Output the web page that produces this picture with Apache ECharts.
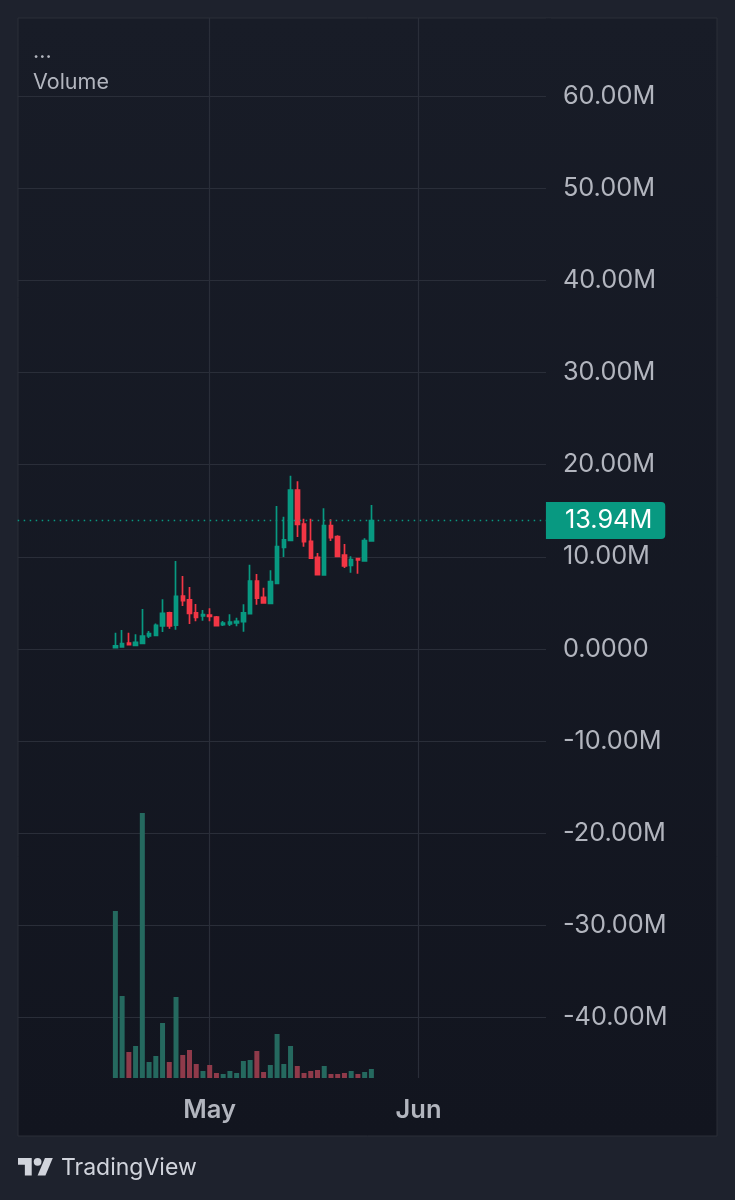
<!DOCTYPE html>
<html>
<head>
<meta charset="utf-8">
<style>html,body{margin:0;padding:0;background:#1e222d;}#c{width:735px;height:1200px;}</style>
<script src="https://cdn.jsdelivr.net/npm/echarts@6/dist/echarts.min.js"></script>
</head>
<body>
<div id="c"></div>
<script>
var dates = [];
var paddingBefore = 14, paddingAfter = 26;
var priceTicks = [60, 50, 40, 30, 20, 10, 0, -10, -20, -30, -40];
var monthLabels = {'May': 14 + 14, 'Jun': 14 + 45};
var lastPrice = 13.94;
// [open, close, low, high] in millions
var candles = [
[0.14,0.33,0.14,1.77],[0.22,0.58,0.22,2.06],[0.65,0.47,0.43,1.77],[0.40,0.72,0.40,1.59],
[0.61,1.41,0.54,4.34],[1.41,1.66,1.19,1.95],[1.48,2.57,1.48,2.78],[2.50,3.87,1.84,5.39],
[3.91,2.50,2.21,4.05],[2.60,5.71,2.10,9.55],[5.75,5.24,4.67,7.92],[5.32,3.87,2.71,6.73],
[3.91,3.44,3.00,4.88],[3.58,3.73,3.07,4.23],[3.69,3.54,3.00,4.41],[3.47,2.53,2.50,3.58],
[2.64,2.82,2.50,3.04],[2.71,2.93,2.50,3.76],[2.82,3.00,2.46,3.40],[2.97,3.91,1.88,4.85],
[3.83,7.38,3.83,9.15],[7.38,5.53,4.81,8.14],[5.61,4.99,4.99,6.65],[4.95,7.31,4.95,8.54],
[7.12,11.10,7.05,15.52],[11.03,11.83,9.98,14.36],[11.79,17.25,11.79,18.81],[17.25,13.53,12.15,18.19],
[13.56,11.65,11.10,14.14],[11.68,9.87,9.87,14.14],[9.95,8.07,8.07,10.42],[8.03,13.38,7.96,15.26],
[13.38,12.08,11.72,14.07],[12.19,10.05,9.98,12.33],[10.20,9.01,8.79,11.39],[9.08,9.69,8.28,10.05],
[9.80,9.66,8.17,9.87],[9.55,11.75,9.51,12.01],[11.72,13.94,11.72,15.62]
];
// Volume in relative units (scale not shown in the chart)
var volumes = [167,82,26,32,265,16,22,55,16,81,23,28,14,7,13,5,4,7,5,17,18,27,6,13,44,14,32,12,5,7,8,12,4,4,5,7,4,6,9];

var UP = '#089981', DOWN = '#f23645';
var UPV = '#25695f', DOWNV = '#8f3a4a';
var GRIDC = '#2a2e39', TXT = '#b2b5be';
var FONT = 'Inter, "Noto Sans", sans-serif';
var panelFill = { type: 'linear', global: true, x: 0, y: 18, x2: 0, y2: 1136,
  colorStops: [{ offset: 0, color: '#181c27' }, { offset: 1, color: '#12151f' }] };

var total = paddingBefore + candles.length + paddingAfter;
for (var i = 0; i < total; i++) dates.push('d' + i);
function pad(arr) {
  var out = [], i;
  for (i = 0; i < paddingBefore; i++) out.push('-');
  out = out.concat(arr);
  for (i = 0; i < paddingAfter; i++) out.push('-');
  return out;
}
var candleData = pad(candles);
var volumeData = pad(volumes.map(function (v, i) {
  return { value: v, itemStyle: { color: candles[i][1] >= candles[i][0] ? UPV : DOWNV } };
}));
function monthAt(idx) {
  for (var k in monthLabels) if (monthLabels[k] === idx) return k;
  return null;
}
var BAND = 6.737, LEFT = 17.7, W = BAND * total, TOP = 18, BOTTOM = 1078;
var PXM = 9.217, ZERO = 649;

var chart = echarts.init(document.getElementById('c'), null, { renderer: 'canvas' });
chart.setOption({
  animation: false,
  backgroundColor: 'transparent',
  grid: [
    { left: LEFT, width: W, top: TOP, height: BOTTOM - TOP, containLabel: false },
    { left: LEFT, width: W, top: 813, height: 265, containLabel: false }
  ],
  xAxis: [
    { type: 'category', gridIndex: 0, data: dates, boundaryGap: true,
      axisLine: { show: false }, axisTick: { show: false },
      axisLabel: { show: true, interval: 0, margin: 19, hideOverlap: false,
        fontFamily: FONT, fontSize: 25.5, fontWeight: 600, color: TXT,
        formatter: function (v, idx) { return monthAt(idx) || ''; } },
      splitLine: { show: true, alignWithLabel: true,
        interval: function (idx) { return monthAt(idx) !== null; },
        lineStyle: { color: GRIDC, width: 1.2 } } },
    { type: 'category', gridIndex: 1, data: dates, boundaryGap: true, show: false }
  ],
  yAxis: [
    { type: 'value', gridIndex: 0, position: 'right',
      min: (ZERO - BOTTOM) / PXM, max: (ZERO - TOP) / PXM,
      axisLine: { show: false },
      axisTick: { show: false, customValues: priceTicks },
      axisLabel: { customValues: priceTicks, inside: false, margin: 13, padding: [6, 0, 0, 0],
        fontFamily: FONT, fontSize: 25.3, color: TXT,
        formatter: function (v) { return v === 0 ? '0.0000' : v + '.00M'; } },
      splitLine: { show: true, lineStyle: { color: GRIDC, width: 1.2 } } },
    { type: 'value', gridIndex: 1, min: 0, max: 265, show: false, splitLine: { show: false } }
  ],
  series: [
    { type: 'bar', name: 'Volume', xAxisIndex: 1, yAxisIndex: 1, data: volumeData, barWidth: 5, z: 2, silent: true },
    { type: 'candlestick', xAxisIndex: 0, yAxisIndex: 0, data: candleData, barWidth: 4, z: 3, silent: true,
      itemStyle: { color: UP, color0: DOWN, borderColor: UP, borderColor0: DOWN, borderWidth: 1.7 },
      markLine: { silent: true, symbol: 'none', animation: false,
        lineStyle: { color: UP, type: [1.5, 4.5], width: 1.4 },
        label: { show: true, position: 'end', distance: -4, formatter: lastPrice + 'M',
          fontFamily: FONT, fontSize: 25.3, color: '#ffffff', backgroundColor: '#089981',
          padding: [7, 13, 5, 19], borderRadius: [0, 4, 4, 0] },
        data: [{ yAxis: lastPrice }] } }
  ],
  graphic: [
    { type: 'rect', z: -10, shape: { x: 0, y: 0, width: 735, height: 1200 }, style: { fill: '#1e222d' } },
    { type: 'rect', z: -9, shape: { x: 18, y: 18, width: 699, height: 1118 },
      style: { stroke: '#2a2e39', lineWidth: 1, fill: panelFill } },
    { type: 'rect', z: 1, shape: { x: 546, y: 18.5, width: 5, height: 1060 }, style: { fill: panelFill } },
    { type: 'text', z: 5, style: { x: 33, y: 41, text: '...', font: '400 21.5px ' + FONT, fill: TXT } },
    { type: 'text', z: 5, style: { x: 33, y: 72, text: 'Volume', font: '400 21.5px ' + FONT, fill: TXT } },
    { type: 'polygon', z: 5, x: 18, y: 1154, scaleX: 0.98, scaleY: 0.98,
      shape: { points: [[0,4],[14,4],[14,22],[7,22],[7,11],[0,11]] }, style: { fill: '#d1d4dc' } },
    { type: 'polygon', z: 5, x: 18, y: 1154, scaleX: 0.98, scaleY: 0.98,
      shape: { points: [[20,22],[28,22],[35.5,4],[27.5,4]] }, style: { fill: '#d1d4dc' } },
    { type: 'circle', z: 5, shape: { cx: 37.6, cy: 1161.8, r: 3.9 }, style: { fill: '#d1d4dc' } },
    { type: 'text', z: 5, style: { x: 61, y: 1157, text: 'TradingView', font: '400 23px ' + FONT, fill: '#d1d4dc' } }
  ]
});
</script>
</body>
</html>
